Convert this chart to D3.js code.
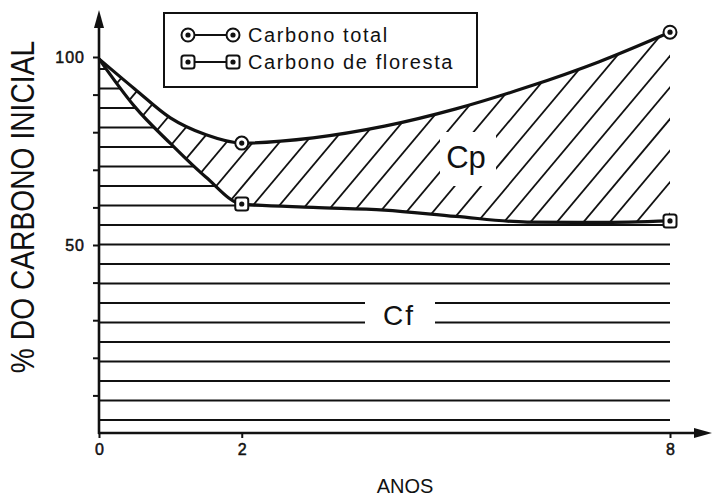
<!DOCTYPE html>
<html>
<head>
<meta charset="utf-8">
<script src="https://cdn.jsdelivr.net/npm/d3@7"></script>
<style>
body { margin: 0; background: #fff; }
svg { display: block; }
text { font-family: "Liberation Sans", Arial, sans-serif; fill: #111; }
</style>
</head>
<body>
<svg id="chart" width="713" height="496"></svg>
<script>
// data
var years = [0, 0.5, 1, 1.5, 2, 3, 4, 5, 6, 7, 8];
var carbonoTotal = [99.5, 91.5, 83.8, 79.3, 77.1, 78.5, 81.6, 86.2, 92.0, 98.7, 106.6];
var carbonoFloresta = [99.5, 86.8, 77.0, 68.0, 60.9, 60.0, 59.3, 57.6, 56.1, 56.0, 56.4];
var markYears = [2, 8];
var yTicks = [10, 20, 30, 40, 50, 60, 70, 80, 90, 100];
var yLabels = [50, 100];
var xTicks = [0, 2, 8];
var legendNames = ["Carbono total", "Carbono de floresta"];

var svg = d3.select("#chart");
var ink = "#111";

var x = d3.scaleLinear().domain([0, 8]).range([99, 670]);
var y = d3.scaleLinear().domain([0, 100]).range([433, 57]);

var rows = years.map(function(d, i) {
  return { t: d, total: carbonoTotal[i], flor: carbonoFloresta[i] };
});

var defs = svg.append("defs");

// Cp = between the two curves, Cf = under floresta
var areaCp = d3.area().curve(d3.curveMonotoneX)
  .x(function(d) { return x(d.t); })
  .y0(function(d) { return y(d.flor); })
  .y1(function(d) { return y(d.total); });
var areaCf = d3.area().curve(d3.curveMonotoneX)
  .x(function(d) { return x(d.t); })
  .y0(y(0))
  .y1(function(d) { return y(d.flor); });

defs.append("clipPath").attr("id", "clipCp").append("path").attr("d", areaCp(rows));
defs.append("clipPath").attr("id", "clipCf").append("path").attr("d", areaCf(rows));

// horizontal hatch for Cf
var gCf = svg.append("g").attr("clip-path", "url(#clipCf)");
var hy = [];
for (var yy = 420; yy > 40; yy -= 19.5) hy.push(yy);
gCf.selectAll("line").data(hy).enter().append("line")
  .attr("x1", x(0)).attr("x2", x(8))
  .attr("y1", function(d) { return d; }).attr("y2", function(d) { return d; })
  .attr("stroke", ink).attr("stroke-width", 2);

// diagonal hatch for Cp
var gCp = svg.append("g").attr("clip-path", "url(#clipCp)");
var ang = 50 * Math.PI / 180;
var dg = d3.range(-20, 25).map(function(k) { return 255 + k * 26.5; });
gCp.selectAll("line").data(dg).enter().append("line")
  .attr("x1", function(d) { return d + (203 - 440) / Math.tan(ang); })
  .attr("y1", 440)
  .attr("x2", function(d) { return d + (203 - 0) / Math.tan(ang); })
  .attr("y2", 0)
  .attr("stroke", ink).attr("stroke-width", 1.8);

// labels cut out of the hatching
svg.append("rect").attr("x", 440).attr("y", 132).attr("width", 56).attr("height", 54).attr("fill", "#fff");
svg.append("text").attr("x", 466).attr("y", 168).attr("text-anchor", "middle")
  .attr("font-size", 31).text("Cp");
svg.append("rect").attr("x", 365).attr("y", 291).attr("width", 70).attr("height", 40).attr("fill", "#fff");
svg.append("text").attr("x", 399).attr("y", 325).attr("text-anchor", "middle")
  .attr("font-size", 28).attr("letter-spacing", 2).text("Cf");

// curves
var lineTotal = d3.line().curve(d3.curveMonotoneX)
  .x(function(d) { return x(d.t); }).y(function(d) { return y(d.total); });
var lineFlor = d3.line().curve(d3.curveMonotoneX)
  .x(function(d) { return x(d.t); }).y(function(d) { return y(d.flor); });
svg.append("path").attr("d", lineTotal(rows)).attr("fill", "none").attr("stroke", ink).attr("stroke-width", 3.2);
svg.append("path").attr("d", lineFlor(rows)).attr("fill", "none").attr("stroke", ink).attr("stroke-width", 3.2);

// axes
var yAxis = d3.axisLeft(y).tickValues(yTicks).tickSize(6).tickPadding(8)
  .tickFormat(function(d) { return yLabels.indexOf(d) >= 0 ? d : ""; });
var gy = svg.append("g").attr("transform", "translate(" + x(0) + ",0)").call(yAxis)
  .attr("font-size", 16).attr("font-family", "Liberation Sans, Arial, sans-serif");
gy.select(".domain").remove();
gy.selectAll(".tick line").attr("stroke", ink).attr("stroke-width", 2);
gy.selectAll(".tick text").attr("letter-spacing", 1).attr("fill", ink)
  .attr("stroke", ink).attr("stroke-width", 0.5);

var xAxis = d3.axisBottom(x).tickValues(xTicks).tickSize(5).tickPadding(6);
var gx = svg.append("g").attr("transform", "translate(0," + y(0) + ")").call(xAxis)
  .attr("font-size", 16).attr("font-family", "Liberation Sans, Arial, sans-serif");
gx.select(".domain").remove();
gx.selectAll(".tick line").attr("stroke", ink).attr("stroke-width", 2);
gx.selectAll(".tick text").attr("fill", ink).attr("stroke", ink).attr("stroke-width", 0.5);

svg.append("line").attr("x1", x(0)).attr("x2", x(0)).attr("y1", y(0) + 1).attr("y2", 22)
  .attr("stroke", ink).attr("stroke-width", 2.6);
svg.append("path").attr("d", "M" + x(0) + ",10 L" + (x(0) - 5) + ",28 L" + (x(0) + 5) + ",28 Z").attr("fill", ink);
svg.append("line").attr("x1", x(0) - 1).attr("x2", 700).attr("y1", y(0)).attr("y2", y(0))
  .attr("stroke", ink).attr("stroke-width", 2.6);
svg.append("path").attr("d", "M712," + y(0) + " L694," + (y(0) - 5) + " L694," + (y(0) + 5) + " Z").attr("fill", ink);

svg.append("text").attr("transform", "translate(34,207) rotate(-90) scale(0.83,1)")
  .attr("text-anchor", "middle").attr("font-size", 34).text("% DO CARBONO INICIAL");
svg.append("text").attr("x", 405).attr("y", 493).attr("text-anchor", "middle")
  .attr("font-size", 20).text("ANOS");

// markers
function circleMark(g, cx, cy) {
  g.append("circle").attr("cx", cx).attr("cy", cy).attr("r", 6.5)
    .attr("fill", "#fff").attr("stroke", ink).attr("stroke-width", 2);
  g.append("circle").attr("cx", cx).attr("cy", cy).attr("r", 2.6).attr("fill", ink);
}
function squareMark(g, cx, cy) {
  g.append("rect").attr("x", cx - 6.5).attr("y", cy - 6.5).attr("width", 13).attr("height", 13).attr("rx", 2.5)
    .attr("fill", "#fff").attr("stroke", ink).attr("stroke-width", 2);
  g.append("circle").attr("cx", cx).attr("cy", cy).attr("r", 2.6).attr("fill", ink);
}
var gm = svg.append("g");
markYears.forEach(function(t) {
  var i = years.indexOf(t);
  circleMark(gm, x(t), y(carbonoTotal[i]));
  squareMark(gm, x(t), y(carbonoFloresta[i]));
});

// legend
var lg = svg.append("g");
lg.append("rect").attr("x", 164).attr("y", 13).attr("width", 313).attr("height", 74)
  .attr("fill", "#fff").attr("stroke", ink).attr("stroke-width", 2);
legendNames.forEach(function(name, i) {
  var ly = 35 + i * 27;
  lg.append("line").attr("x1", 188).attr("x2", 233).attr("y1", ly).attr("y2", ly)
    .attr("stroke", ink).attr("stroke-width", 2);
  if (i === 0) { circleMark(lg, 188, ly); circleMark(lg, 233, ly); }
  else { squareMark(lg, 188, ly); squareMark(lg, 233, ly); }
  lg.append("text").attr("x", 248).attr("y", ly + 7).attr("font-size", 20)
    .attr("letter-spacing", 1.6).text(name);
});
</script>
</body>
</html>
